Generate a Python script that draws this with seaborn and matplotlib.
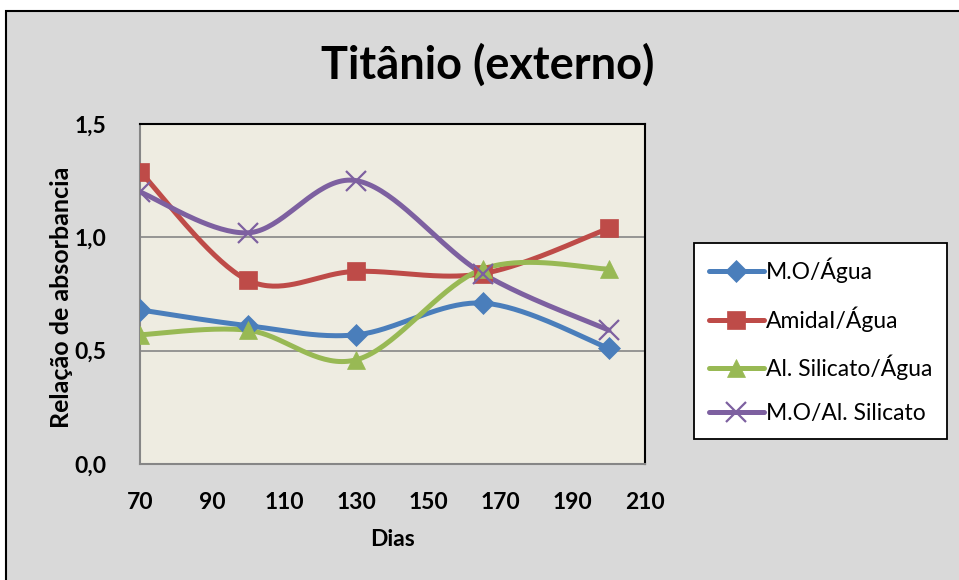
import numpy as np
import pandas as pd
import matplotlib
matplotlib.use("Agg")
import matplotlib.pyplot as plt
from matplotlib.lines import Line2D
from matplotlib.patches import Rectangle
import seaborn as sns

# Measured ratios per sampling day
dias = [70, 100, 130, 165, 200]
mo_agua = [0.68, 0.61, 0.57, 0.71, 0.51]
amidal_agua = [1.29, 0.81, 0.85, 0.84, 1.04]
silicato_agua = [0.57, 0.59, 0.46, 0.86, 0.86]
mo_silicato = [1.20, 1.02, 1.25, 0.84, 0.59]

series_names = ["M.O/Água", "AmidaI/Água", "Al. Silicato/Água", "M.O/Al. Silicato"]
x_ticks = [70, 90, 110, 130, 150, 170, 190, 210]
y_ticks = [0.0, 0.5, 1.0, 1.5]

colors = ["#4A7EBB", "#BE4B48", "#98B954", "#7D60A0"]
markers = ["D", "s", "^", "x"]
msizes = [11, 13, 13, 14]

sns.set_style("white")
plt.rcParams["font.family"] = ["Lato", "DejaVu Sans"]
for key in ["text.color", "axes.labelcolor", "xtick.color", "ytick.color"]:
    plt.rcParams[key] = "black"


def smooth(x, y, n=40):
    """Catmull-Rom style Bezier smoothing through every point."""
    P = np.column_stack([x, y]).astype(float)
    pad = np.vstack([P[0], P, P[-1]])
    out = []
    t = np.linspace(0, 1, n)[:, None]
    for i in range(len(P) - 1):
        p0, p1, p2, p3 = pad[i], pad[i + 1], pad[i + 2], pad[i + 3]
        c1 = p1 + (p2 - p0) / 6.0
        c2 = p2 - (p3 - p1) / 6.0
        seg = ((1 - t) ** 3) * p1 + 3 * ((1 - t) ** 2) * t * c1 + 3 * (1 - t) * t ** 2 * c2 + t ** 3 * p2
        out.append(seg if i == 0 else seg[1:])
    out = np.vstack(out)
    return out[:, 0], out[:, 1]


values = [mo_agua, amidal_agua, silicato_agua, mo_silicato]
frames = []
for name, vals in zip(series_names, values):
    sx, sy = smooth(dias, vals)
    frames.append(pd.DataFrame({"Dias": sx, "valor": sy, "serie": name}))
curves = pd.concat(frames, ignore_index=True)

fig = plt.figure(figsize=(9.59, 5.80), dpi=100)
fig.patch.set_facecolor("white")
W, H = 959, 580
# chart-area panel: bordered on the left and top, running off the right and bottom edges
fig.patches.append(Rectangle((6 / W, -0.02), 1.0, 1 - 11 / H + 0.02, transform=fig.transFigure,
                             facecolor="#D9D9D9", edgecolor="black", linewidth=1.5, zorder=-10))

ax = fig.add_axes([140 / W, 1 - 464 / H, 505 / W, 340 / H])
ax.set_facecolor("#EEECE1")

sns.lineplot(data=curves, x="Dias", y="valor", hue="serie", palette=dict(zip(series_names, colors)),
             sort=False, estimator=None, legend=False, linewidth=3.6, ax=ax, zorder=3)

for name, vals, c, m, ms in zip(series_names, values, colors, markers, msizes):
    ax.plot(dias, vals, linestyle="none", marker=m, markersize=ms, color=c,
            markeredgecolor=c, markeredgewidth=1.6 if m == "x" else 0.5, zorder=4)

ax.set_xlim(70, 210)
ax.set_ylim(0, 1.5)
ax.set_xticks(x_ticks)
ax.set_yticks(y_ticks)
ax.set_xticklabels([str(v) for v in x_ticks], fontsize=16.5, fontweight="bold")
ax.set_yticklabels([f"{v:.1f}".replace(".", ",") for v in y_ticks], fontsize=16.5, fontweight="bold")
ax.tick_params(axis="x", length=0, pad=20)
ax.tick_params(axis="y", length=0, pad=24)
ax.grid(axis="y", color="#868686", linewidth=1.2)
ax.grid(axis="x", visible=False)
ax.set_axisbelow(True)

for side in ["top", "right"]:
    ax.spines[side].set_color("black")
    ax.spines[side].set_linewidth(1.5)
for side in ["left", "bottom"]:
    ax.spines[side].set_color("#868686")
    ax.spines[side].set_linewidth(1.5)

ax.set_xlabel("Dias", fontsize=16.5, fontweight="bold", labelpad=12)
ax.set_ylabel("Relação de absorbancia", fontsize=18, fontweight="bold")
ax.yaxis.set_label_coords(-0.133, 0.49)

fig.text(488 / W, 1 - 65 / H, "Titânio (externo)", fontsize=32.5, fontweight="bold",
         ha="center", va="center")

handles = [Line2D([0], [0], color=c, linewidth=3.6, marker=m, markersize=ms,
                  markeredgecolor=c, markeredgewidth=1.6 if m == "x" else 0.5)
           for c, m, ms in zip(colors, markers, msizes)]
leg = fig.legend(handles, series_names, loc="upper left", bbox_to_anchor=(694 / W, 1 - 243 / H),
                 frameon=True, fancybox=False, framealpha=1, edgecolor="black",
                 prop={"family": ["Lato", "DejaVu Sans"], "size": 16.5},
                 handlelength=2.4, handletextpad=0.1, labelspacing=1.0, borderpad=0.65,
                 borderaxespad=0)
leg.get_frame().set_linewidth(1.3)

fig.savefig("out.png", dpi=100)
